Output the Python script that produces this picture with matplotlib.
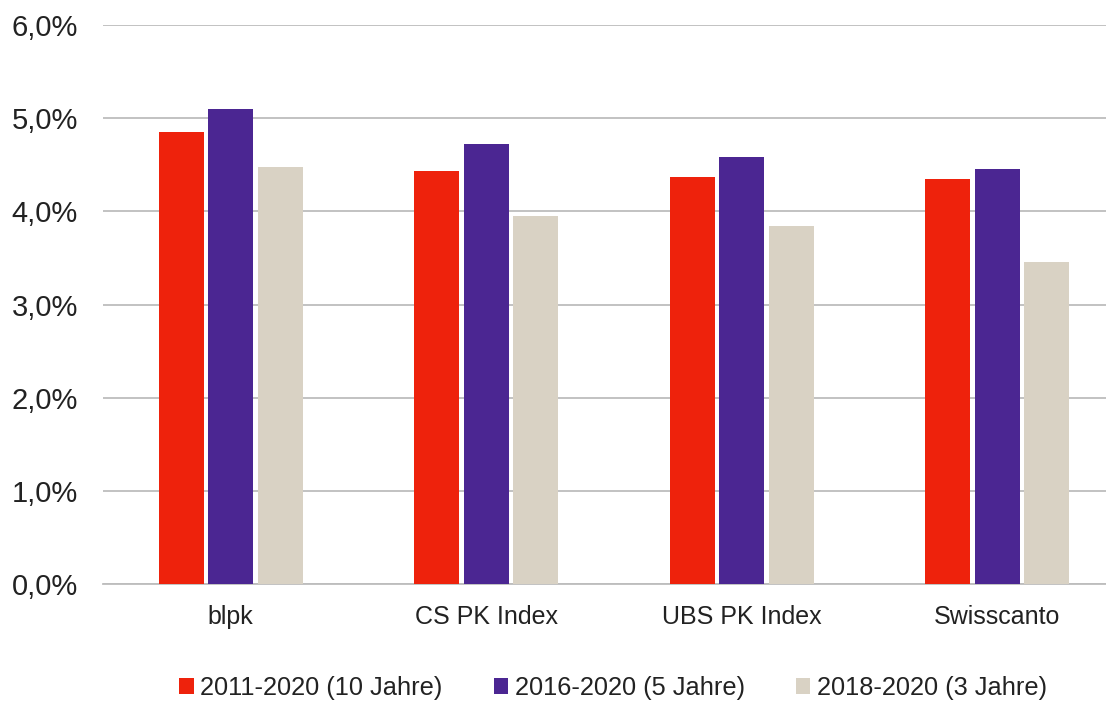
import numpy as np
import matplotlib.pyplot as plt
from matplotlib.ticker import FuncFormatter

# Data
categories = ['blpk', 'CS PK Index', 'UBS PK Index', 'Swisscanto']
series_names = ['2011-2020 (10 Jahre)', '2016-2020 (5 Jahre)', '2018-2020 (3 Jahre)']
ten_years = [4.85, 4.43, 4.37, 4.35]
five_years = [5.10, 4.72, 4.58, 4.45]
three_years = [4.48, 3.95, 3.84, 3.46]
colors = ['#EE220C', '#4B2692', '#D9D2C4']

plt.rcParams['font.family'] = ['Liberation Sans', 'DejaVu Sans']

W, H = 1106, 701
fig = plt.figure(figsize=(W / 100, H / 100), dpi=100)
ax = fig.add_axes([103 / W, (H - 584) / H, (W - 103) / W, (584 - 25) / H])

x = np.arange(len(categories))
width = 0.176
step = 0.194
for i, (vals, name) in enumerate(zip([ten_years, five_years, three_years], series_names)):
    ax.bar(x + (i - 1) * step, vals, width, color=colors[i], label=name, zorder=3)

ax.set_ylim(0, 6)
ax.set_xlim(-0.5, 3.5 - (1125 - 1106) / 255.7)
ax.set_yticks(np.arange(0, 7, 1))
ax.yaxis.set_major_formatter(FuncFormatter(lambda v, p: f'{v:.1f}%'.replace('.', ',')))
ax.grid(axis='y', color='#BDBDBD', linewidth=1.3, zorder=0)
for s in ['top', 'right', 'left']:
    ax.spines[s].set_visible(False)
ax.spines['bottom'].set_color('#BDBDBD')
ax.spines['bottom'].set_linewidth(1.3)
ax.tick_params(axis='y', length=0, pad=18, labelsize=21, labelcolor='#222222')
ax.tick_params(axis='x', length=0, pad=15, labelsize=18, labelcolor='#222222')
ax.set_xticks(x)
ax.set_xticklabels(categories)

fig.legend(loc='center', bbox_to_anchor=(613 / W, 1 - 688 / H), ncol=3, frameon=False,
           fontsize=18.3, handlelength=0.58, handleheight=0.58, handletextpad=0.25,
           columnspacing=2.0, labelcolor='#222222')

fig.savefig('out.png', dpi=100)
